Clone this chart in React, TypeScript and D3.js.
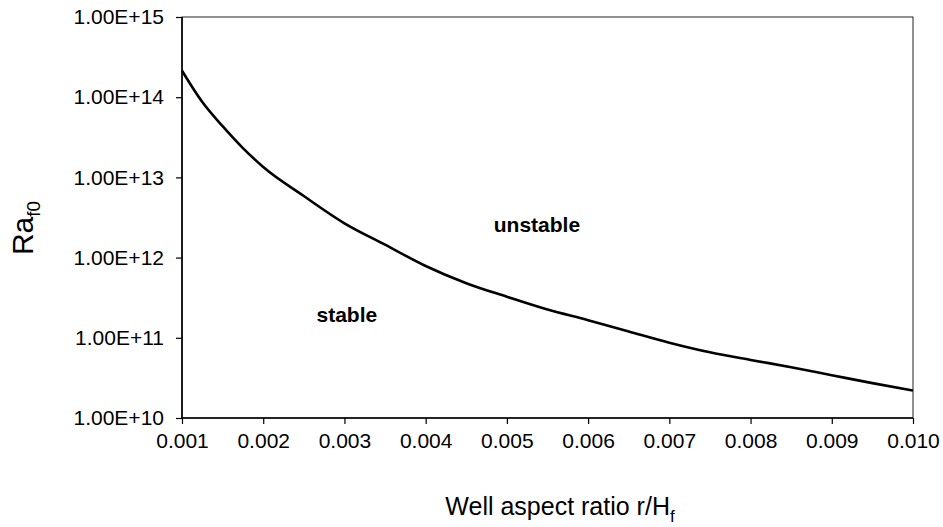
import React, { useEffect, useRef } from "react";
import * as d3 from "d3";

// values
const ratio = [0.001, 0.00125, 0.0015, 0.00175, 0.002, 0.0025, 0.003, 0.0035, 0.004, 0.0045, 0.005,
    0.0055, 0.006, 0.0065, 0.007, 0.0075, 0.008, 0.0085, 0.009, 0.0095, 0.01];
const raF0 = [2.14e14, 8.7e13, 4.35e13, 2.32e13, 1.35e13, 5.86e12, 2.68e12, 1.45e12, 7.86e11, 4.8e11, 3.25e11,
    2.25e11, 1.66e11, 1.2e11, 8.7e10, 6.6e10, 5.3e10, 4.3e10, 3.42e10, 2.72e10, 2.2e10];

const xTicks = [0.001, 0.002, 0.003, 0.004, 0.005, 0.006, 0.007, 0.008, 0.009, 0.01];
const xTickLabels = ["0.001", "0.002", "0.003", "0.004", "0.005", "0.006", "0.007", "0.008", "0.009", "0.010"];
const yTicks = [1e10, 1e11, 1e12, 1e13, 1e14, 1e15];
const yTickLabels = ["1.00E+10", "1.00E+11", "1.00E+12", "1.00E+13", "1.00E+14", "1.00E+15"];

const regionLabels = [
    { text: "unstable", x: 0.00537, y: 2.07e12 },
    { text: "stable", x: 0.00303, y: 1.56e11 },
];

const W = 943;
const H = 527;
const margin = { left: 182, right: 30, top: 17, bottom: 109 };
const FONT = "Arial, 'Liberation Sans', sans-serif";

const App = () => {
    const svgRef = useRef(null);

    useEffect(() => {
        const svg = d3.select(svgRef.current);
        svg.selectAll("*").remove();

        const x = d3.scaleLinear().domain([0.001, 0.01]).range([margin.left, W - margin.right]);
        const y = d3.scaleLog().domain([1e10, 1e15]).range([H - margin.bottom, margin.top]);

        // plot area frame (top / right)
        svg.append("rect")
            .attr("x", x(0.001))
            .attr("y", y(1e15))
            .attr("width", x(0.01) - x(0.001))
            .attr("height", y(1e10) - y(1e15))
            .attr("fill", "none")
            .attr("stroke", "#222")
            .attr("stroke-width", 1);

        // x axis
        const xAxis = d3.axisBottom(x)
            .tickValues(xTicks)
            .tickSize(6)
            .tickPadding(9)
            .tickFormat((d, i) => xTickLabels[i]);
        const gx = svg.append("g")
            .attr("transform", `translate(0,${y(1e10)})`)
            .call(xAxis);

        // y axis
        const yAxis = d3.axisLeft(y)
            .tickValues(yTicks)
            .tickSize(6)
            .tickPadding(12)
            .tickFormat((d, i) => yTickLabels[i]);
        const gy = svg.append("g")
            .attr("transform", `translate(${x(0.001)},0)`)
            .call(yAxis);

        [gx, gy].forEach((g) => {
            g.select(".domain").attr("stroke", "#000").attr("stroke-width", 1.6);
            g.selectAll(".tick line").attr("stroke", "#000").attr("stroke-width", 1.2);
            g.selectAll(".tick text")
                .attr("font-family", FONT)
                .attr("font-size", 21)
                .attr("fill", "#000");
        });
        gx.select(".domain").attr("d", `M${x(0.001)},0H${x(0.01)}`);
        gy.select(".domain").attr("d", `M0,${y(1e10)}V${y(1e15)}`);

        // curve
        const pts = ratio.map((r, i) => [r, raF0[i]]);
        const line = d3.line()
            .x((d) => x(d[0]))
            .y((d) => y(d[1]))
            .curve(d3.curveMonotoneX);
        svg.append("path")
            .datum(pts)
            .attr("d", line)
            .attr("fill", "none")
            .attr("stroke", "#000")
            .attr("stroke-width", 2.6)
            .attr("stroke-linejoin", "round");

        // region labels
        svg.selectAll(".region")
            .data(regionLabels)
            .enter()
            .append("text")
            .attr("class", "region")
            .attr("x", (d) => x(d.x))
            .attr("y", (d) => y(d.y))
            .attr("text-anchor", "middle")
            .attr("font-family", FONT)
            .attr("font-weight", "bold")
            .attr("font-size", 21)
            .text((d) => d.text);

        // x title
        const xt = svg.append("text")
            .attr("x", 560)
            .attr("y", 515)
            .attr("text-anchor", "middle")
            .attr("font-family", FONT)
            .attr("font-size", 25);
        xt.append("tspan").text("Well aspect ratio r/H");
        xt.append("tspan").attr("font-size", 17).attr("dy", 7).text("f");

        // y title
        const yt = svg.append("text")
            .attr("transform", `translate(33,228) rotate(-90)`)
            .attr("text-anchor", "middle")
            .attr("font-family", FONT)
            .attr("font-size", 30);
        yt.append("tspan").text("Ra");
        yt.append("tspan").attr("font-size", 19).attr("dy", 7).text("f0");
    }, []);

    return (
        <div style={{ position: "fixed", left: 0, top: 0 }}>
            <svg ref={svgRef} width={W} height={H} style={{ display: "block", background: "#fff" }} />
        </div>
    );
};

export default App;
